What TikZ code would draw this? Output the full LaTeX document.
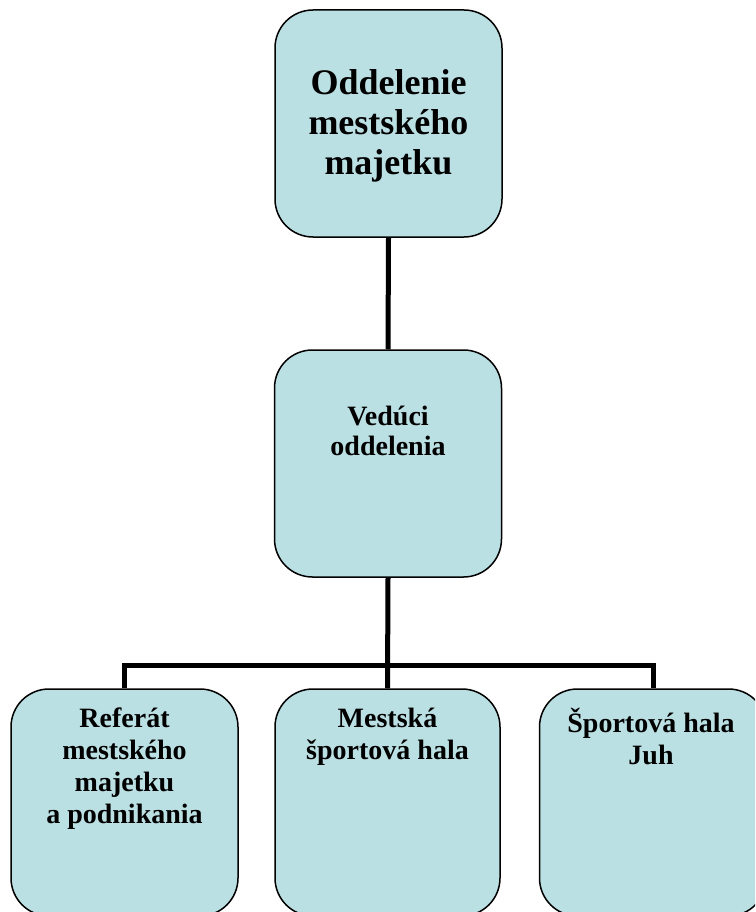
\documentclass[tikz,border=0pt]{standalone}
\usepackage{fontspec}
\setmainfont{Liberation Serif}
\definecolor{boxfill}{RGB}{187,224,227}
\begin{document}
\begin{tikzpicture}[x=1pt,y=-1pt,
  orgbox/.style={draw=black, line width=1.5pt, fill=boxfill, rounded corners=38pt,
    inner sep=0pt, minimum width=227pt, minimum height=227pt},
  bigtext/.style={font=\bfseries\fontsize{36}{40}\selectfont, align=center, inner sep=0pt},
  midtext/.style={font=\bfseries\fontsize{28}{30}\selectfont, align=center, inner sep=0pt},
  smalltext/.style={font=\bfseries\fontsize{28}{32}\selectfont, align=center, inner sep=0pt},
  link/.style={line width=5pt, line join=miter}]
\useasboundingbox (0,0) rectangle (755,912);
\clip (0,0) rectangle (755,912);
\fill[white] (0,0) rectangle (755,912);
% connectors
\coordinate (bus) at (388,665);
\node[orgbox] (top) at (388.5,123.5) {};
\node[orgbox] (mid) at (388,463.5) {};
\node[orgbox] (b1) at (124.5,802.5) {};
\node[orgbox, minimum width=225pt] (b2) at (387.5,802.5) {};
\node[orgbox] (b3) at (653,802.5) {};
\draw[link] (top.south) -- (mid.north);
\draw[link] (mid.south) -- (b2.north);
\draw[link] (b1.north) |- (b3.north |- bus) -- (b3.north);
% texts
\node[bigtext] (ttop) at (388.5,126) {Oddelenie\\mestského\\majetku};
\node[midtext, anchor=north] (tmid) at (388,406) {Vedúci\\oddelenia};
\node[smalltext, anchor=north] (tb1) at (124.5,708) {Referát\\mestského\\majetku\\a podnikania};
\node[smalltext, anchor=north] (tb2) at (387.5,708) {Mestská\\športová hala};
\node[smalltext, anchor=north] (tb3) at (651,708) {Športová hala\\Juh};
\end{tikzpicture}
\end{document}
